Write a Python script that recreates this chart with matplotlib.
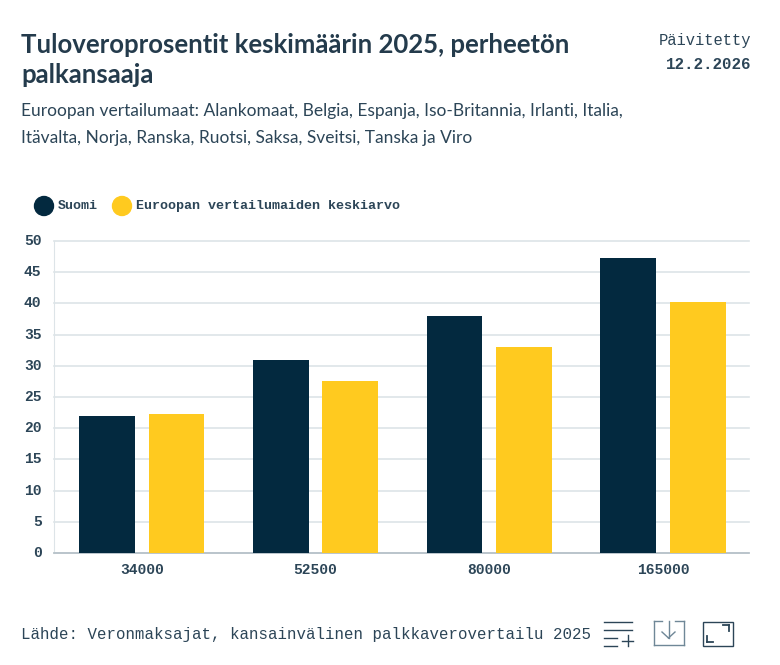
"""Tuloveroprosentit 2025: Suomi vs. Euroopan vertailumaat."""

import numpy as np
import matplotlib.pyplot as plt
from matplotlib.lines import Line2D
from matplotlib.patches import Circle, Rectangle
from matplotlib.transforms import ScaledTranslation

# ---------------------------------------------------------------------------
# Data
# ---------------------------------------------------------------------------
categories = ["34000", "52500", "80000", "165000"]
suomi = [22.0, 31.0, 38.0, 47.3]
eurooppa = [22.2, 27.6, 33.0, 40.2]
y_ticks = [0, 5, 10, 15, 20, 25, 30, 35, 40, 45, 50]

# ---------------------------------------------------------------------------
# Configuration
# ---------------------------------------------------------------------------
W, H = 780, 665
NAVY = "#03293f"
YELLOW = "#ffca1f"
TEXT = "#2c4557"
TITLE = "#243b4c"
GRID = "#dde4e8"
ICON_SOFT = "#6f8797"
SANS = "Lato"
MONO = "Liberation Mono"


def fx(px):
    return px / W


def fy(px):
    return 1 - px / H


fig = plt.figure(figsize=(W / 100, H / 100), dpi=100, facecolor="white")
ax = fig.add_axes([fx(54), fy(553), (749 - 54) / W, (553 - 241) / H])

# --- Bars ---
x = np.arange(len(categories))
bar_w = 0.32
ax.bar(x - 0.2, suomi, bar_w, color=NAVY, zorder=3)
ax.bar(x + 0.2, eurooppa, bar_w, color=YELLOW, zorder=3)

ax.set_xlim(-0.505, len(categories) - 0.505)
ax.set_ylim(0, 50)
ax.set_yticks(y_ticks)
ax.set_xticks(x)
ax.set_xticklabels(categories)
ax.tick_params(axis="both", length=0, labelcolor=TEXT, labelsize=10.5)
ax.tick_params(axis="x", pad=7)
ax.tick_params(axis="y", pad=9)
for lab in ax.get_xticklabels():
    lab.set_fontfamily(MONO)
    lab.set_fontweight("bold")
up = ScaledTranslation(0, 1.5 / 100, fig.dpi_scale_trans)
for lab in ax.get_yticklabels():
    lab.set_fontfamily(MONO)
    lab.set_fontweight("bold")
    lab.set_transform(lab.get_transform() + up)

ax.grid(axis="y", color=GRID, linewidth=1.2, zorder=0)
for line in ax.get_ygridlines():
    line.set_clip_on(False)
ax.set_axisbelow(True)
for side in ("top", "right"):
    ax.spines[side].set_visible(False)
ax.spines["left"].set_color(GRID)
ax.spines["bottom"].set_color("#b4bfc6")
ax.spines["bottom"].set_linewidth(1.2)

# --- Header ---
fig.text(fx(21), fy(53), "Tuloveroprosentit keskimäärin 2025, perheetön", family=SANS,
         fontsize=18.5, fontweight="bold", color=TITLE, va="baseline")
fig.text(fx(21), fy(83), "palkansaaja", family=SANS,
         fontsize=18.5, fontweight="bold", color=TITLE, va="baseline")
fig.text(fx(21), fy(116), "Euroopan vertailumaat: Alankomaat, Belgia, Espanja, Iso-Britannia, Irlanti, Italia,",
         family=SANS, fontsize=12.5, color=TEXT, va="baseline")
fig.text(fx(21), fy(143), "Itävalta, Norja, Ranska, Ruotsi, Saksa, Sveitsi, Tanska ja Viro",
         family=SANS, fontsize=12.5, color=TEXT, va="baseline")
fig.text(fx(751), fy(45), "Päivitetty", family=MONO, fontsize=11.2, color=TEXT,
         ha="right", va="baseline")
fig.text(fx(751), fy(69), "12.2.2026", family=MONO, fontsize=11.4, fontweight="bold",
         color=TEXT, ha="right", va="baseline")

# --- Legend ---
for cx, col in ((44, NAVY), (122, YELLOW)):
    fig.add_artist(Circle((cx, H - 206), 9.5, color=col, transform=None))
fig.text(fx(58), fy(209), "Suomi", family=MONO, fontsize=9.6, fontweight="bold",
         color=TEXT, va="baseline")
fig.text(fx(136), fy(209), "Euroopan vertailumaiden keskiarvo", family=MONO, fontsize=9.6,
         fontweight="bold", color=TEXT, va="baseline")

# --- Footer ---
fig.text(fx(21), fy(639), "Lähde: Veronmaksajat, kansainvälinen palkkaverovertailu 2025",
         family=MONO, fontsize=11.3, color=TEXT, va="baseline")


def seg(x0, y0, x1, y1, lw=1.0, color=TEXT):
    fig.add_artist(Line2D([fx(x0), fx(x1)], [fy(y0), fy(y1)], color=color, linewidth=lw,
                          transform=fig.transFigure))


# Table icon
seg(604, 621.5, 632, 621.5)
seg(604, 629.5, 632, 629.5)
seg(604, 637.5, 617, 637.5)
seg(604, 645.5, 617, 645.5)
seg(622, 640.5, 633, 640.5)
seg(627.5, 635, 627.5, 646)

# Download icon
seg(653.5, 621, 653.5, 645, color=ICON_SOFT)
seg(653.5, 645, 683.5, 645, color=ICON_SOFT)
seg(683.5, 645, 683.5, 621, color=ICON_SOFT)
seg(653.5, 621, 662, 621, color=ICON_SOFT)
seg(675, 621, 683.5, 621, color=ICON_SOFT)
seg(668.5, 621, 668.5, 638, color=ICON_SOFT)
seg(662, 632, 668.5, 638, color=ICON_SOFT)
seg(675, 632, 668.5, 638, color=ICON_SOFT)

# Fullscreen icon
fig.add_artist(Rectangle((fx(703), fy(645.5)), 30 / W, 23.5 / H, fill=False, edgecolor=TEXT,
                         linewidth=1.0, transform=fig.transFigure))
seg(723, 625, 729, 625, lw=1.3)
seg(729, 625, 729, 631, lw=1.3)
seg(707, 636, 707, 642, lw=1.3)
seg(707, 642, 713, 642, lw=1.3)

fig.savefig("out.png", dpi=100, facecolor="white")
